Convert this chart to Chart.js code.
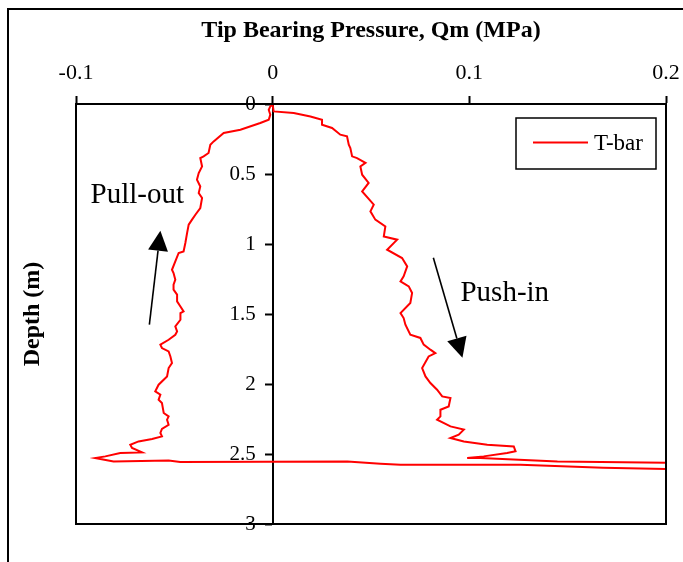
<!DOCTYPE html>
<html>
<head>
<meta charset="utf-8">
<script src="https://cdn.jsdelivr.net/npm/chart.js@4/dist/chart.umd.min.js"></script>
<style>
  html, body { margin: 0; padding: 0; background: #fff; }
</style>
</head>
<body>
<canvas id="tbarChart" width="683" height="562"></canvas>
<script>
// axis ticks
const pressureTicks = [-0.1, 0, 0.1, 0.2];
const depthTicks = [0, 0.5, 1, 1.5, 2, 2.5, 3];

// push-in: from surface down to the bottom spike (Qm in MPa, depth in m)
const pushInQm = [0, 0.0005, 0.0107, 0.0192, 0.0251, 0.0251, 0.0302, 0.0344, 0.0378, 0.0387,
  0.0395, 0.0404, 0.0429, 0.0472, 0.0446, 0.0455, 0.0488, 0.0455, 0.0514, 0.0497,
  0.0522, 0.0573, 0.0565, 0.0633, 0.0582, 0.0658, 0.0684, 0.0666, 0.065, 0.0692,
  0.0709, 0.07, 0.065, 0.0666, 0.0675, 0.07, 0.0751, 0.0768, 0.0802, 0.0827,
  0.0793, 0.076, 0.0777, 0.0802, 0.0836, 0.0862, 0.0904, 0.0895, 0.0853, 0.0853,
  0.0836, 0.0904, 0.0972, 0.0946, 0.0904, 0.0972, 0.1091, 0.1226, 0.1235, 0.1192,
  0.1073, 0.0989, 0.1056, 0.1448, 0.2007, 0.25];
const pushInDepth = [0.005, 0.053, 0.064, 0.089, 0.112, 0.148, 0.171, 0.219, 0.231, 0.291,
  0.314, 0.374, 0.386, 0.421, 0.446, 0.505, 0.564, 0.624, 0.719, 0.767,
  0.826, 0.874, 0.946, 0.969, 1.041, 1.1, 1.16, 1.231, 1.267, 1.303,
  1.35, 1.421, 1.493, 1.529, 1.576, 1.648, 1.671, 1.719, 1.755, 1.779,
  1.803, 1.886, 1.946, 1.993, 2.041, 2.089, 2.1, 2.16, 2.184, 2.231,
  2.255, 2.303, 2.326, 2.362, 2.386, 2.41, 2.434, 2.446, 2.481, 2.493,
  2.517, 2.529, 2.529, 2.553, 2.562, 2.585];

// pull-out: back across the bottom, then up to the surface
const pullOutQm = [0.2007, 0.168, 0.126, 0.065, 0.0548, 0.038, -0.047, -0.0529, -0.0809, -0.0902,
  -0.0851, -0.0775, -0.0664, -0.0715, -0.0724, -0.0682, -0.0613, -0.0563, -0.0571, -0.0563,
  -0.0529, -0.0537, -0.0529, -0.0554, -0.0563, -0.058, -0.0571, -0.0597, -0.058, -0.0537,
  -0.0529, -0.0512, -0.052, -0.0529, -0.0563, -0.0571, -0.0529, -0.0495, -0.0486, -0.0495,
  -0.0469, -0.0469, -0.0453, -0.0469, -0.0486, -0.0486, -0.0504, -0.0504, -0.0495, -0.0504,
  -0.0512, -0.0495, -0.0478, -0.0453, -0.0444, -0.0435, -0.0427, -0.041, -0.0393, -0.0368,
  -0.0359, -0.0376, -0.0368, -0.0385, -0.0376, -0.0359, -0.0368, -0.0351, -0.0326, -0.0317,
  -0.03, -0.0249, -0.0164, -0.0063, -0.002, -0.0012, -0.002, -0.0012, 0];
const pullOutDepth = [2.607, 2.598, 2.576, 2.576, 2.569, 2.553, 2.557, 2.546, 2.553, 2.529,
  2.517, 2.493, 2.489, 2.457, 2.434, 2.41, 2.393, 2.374, 2.35, 2.321,
  2.291, 2.255, 2.231, 2.207, 2.136, 2.112, 2.076, 2.053, 2.005, 1.946,
  1.886, 1.85, 1.803, 1.767, 1.743, 1.719, 1.684, 1.648, 1.624, 1.589,
  1.541, 1.493, 1.481, 1.446, 1.41, 1.362, 1.326, 1.291, 1.255, 1.207,
  1.184, 1.124, 1.064, 1.053, 0.993, 0.921, 0.862, 0.826, 0.791, 0.743,
  0.671, 0.636, 0.589, 0.541, 0.493, 0.446, 0.386, 0.374, 0.35, 0.291,
  0.267, 0.207, 0.184, 0.136, 0.112, 0.076, 0.041, 0.017, 0.005];

// text labels and arrows placed in data units
const notes = [
  { text: 'Pull-out', qm: -0.0926, depth: 0.705 },
  { text: 'Push-in', qm: 0.0955, depth: 1.41 }
];
const arrows = [
  { from: [-0.0627, 1.576], to: [-0.0571, 0.905] },
  { from: [0.0817, 1.098], to: [0.0965, 1.812] }
];

const serif = "'Liberation Serif', 'Times New Roman', serif";
const depthLabelShift = -17; // y labels sit left of the tick marks on the Qm = 0 axis

const points = pushInQm.map((q, i) => ({ x: q, y: pushInDepth[i] }))
  .concat(pullOutQm.map((q, i) => ({ x: q, y: pullOutDepth[i] })));

const decorPlugin = {
  id: 'decor',
  beforeDraw(chart) {
    const ctx = chart.ctx;
    ctx.save();
    ctx.fillStyle = '#fff';
    ctx.fillRect(0, 0, chart.width, chart.height);
    // outer figure frame
    ctx.strokeStyle = '#000';
    ctx.lineWidth = 2;
    ctx.beginPath();
    ctx.moveTo(8, chart.height);
    ctx.lineTo(8, 9);
    ctx.lineTo(chart.width, 9);
    ctx.stroke();
    ctx.restore();
  },
  afterDatasetsDraw(chart) {
    // y tick labels (z = 1) are drawn next; shift them off the tick marks
    chart.ctx.save();
    chart.ctx.translate(depthLabelShift, 0);
  },
  afterDraw(chart) {
    const ctx = chart.ctx;
    ctx.restore();
    const { left, right, top, bottom } = chart.chartArea;
    const xs = chart.scales.x, ys = chart.scales.y;
    ctx.save();
    // plot frame
    ctx.strokeStyle = '#000';
    ctx.lineWidth = 2;
    ctx.strokeRect(left, top, right - left, bottom - top);

    // notes
    ctx.fillStyle = '#000';
    ctx.font = '29px ' + serif;
    ctx.textAlign = 'left';
    ctx.textBaseline = 'alphabetic';
    notes.forEach(n => {
      ctx.fillText(n.text, xs.getPixelForValue(n.qm), ys.getPixelForValue(n.depth));
    });

    // arrows
    arrows.forEach(a => {
      const x1 = xs.getPixelForValue(a.from[0]), y1 = ys.getPixelForValue(a.from[1]);
      const x2 = xs.getPixelForValue(a.to[0]), y2 = ys.getPixelForValue(a.to[1]);
      const ang = Math.atan2(y2 - y1, x2 - x1);
      const len = 20, half = 10;
      const bx = x2 - len * Math.cos(ang), by = y2 - len * Math.sin(ang);
      ctx.lineWidth = 1.6;
      ctx.beginPath();
      ctx.moveTo(x1, y1);
      ctx.lineTo(bx, by);
      ctx.stroke();
      ctx.beginPath();
      ctx.moveTo(x2, y2);
      ctx.lineTo(bx + half * Math.sin(ang), by - half * Math.cos(ang));
      ctx.lineTo(bx - half * Math.sin(ang), by + half * Math.cos(ang));
      ctx.closePath();
      ctx.fill();
    });

    // legend box
    const ds = chart.data.datasets[0];
    const bw = 140, bh = 51;
    const bxl = right - 150, byt = top + 14;
    ctx.lineWidth = 1.5;
    ctx.strokeRect(bxl, byt, bw, bh);
    ctx.strokeStyle = ds.borderColor;
    ctx.lineWidth = 2;
    ctx.beginPath();
    ctx.moveTo(bxl + 17, byt + bh / 2 - 1);
    ctx.lineTo(bxl + 72, byt + bh / 2 - 1);
    ctx.stroke();
    ctx.font = '23px ' + serif;
    ctx.textBaseline = 'middle';
    ctx.fillText(ds.label, bxl + 78, byt + bh / 2);
    ctx.restore();
  }
};

const ctx = document.getElementById('tbarChart').getContext('2d');
new Chart(ctx, {
  type: 'scatter',
  data: {
    datasets: [{
      label: 'T-bar',
      data: points,
      showLine: true,
      borderColor: '#ff0000',
      borderWidth: 2,
      pointRadius: 0,
      fill: false,
      tension: 0
    }]
  },
  options: {
    responsive: false,
    animation: false,
    layout: { padding: { left: 14, right: 17, top: 0, bottom: 38 } },
    plugins: {
      legend: { display: false },
      tooltip: { enabled: false }
    },
    scales: {
      x: {
        type: 'linear',
        position: 'top',
        min: -0.1,
        max: 0.2,
        afterBuildTicks: s => { s.ticks = pressureTicks.map(v => ({ value: v })); },
        ticks: {
          color: '#000',
          padding: 10,
          font: { family: serif, size: 22 },
          callback: v => String(v)
        },
        grid: { drawOnChartArea: false, tickLength: 8, color: '#000', tickWidth: 2 },
        border: { color: '#000', width: 2 },
        title: {
          display: true,
          text: 'Tip Bearing Pressure, Qm (MPa)',
          color: '#000',
          font: { family: serif, size: 24, weight: 'bold' },
          padding: { top: 16, bottom: 0 }
        },
        afterFit: s => { s.height = 104; s.paddingLeft = 0; s.paddingRight = 0; }
      },
      y: {
        type: 'linear',
        position: { x: 0 },
        reverse: true,
        min: 0,
        max: 3,
        afterBuildTicks: s => { s.ticks = depthTicks.map(v => ({ value: v })); },
        ticks: {
          color: '#000',
          z: 1,
          font: { family: serif, size: 21 },
          callback: v => String(v)
        },
        grid: { drawOnChartArea: false, tickLength: 7, color: '#000', tickWidth: 2 },
        border: { color: '#000', width: 2 }
      },
      yTitle: {
        type: 'linear',
        position: 'left',
        ticks: { display: false },
        grid: { display: false },
        border: { display: false },
        title: {
          display: true,
          text: 'Depth (m)',
          color: '#000',
          font: { family: serif, size: 24, weight: 'bold' },
          padding: { top: 4, bottom: 0 }
        },
        afterFit: s => { s.width = 62; }
      }
    }
  },
  plugins: [decorPlugin]
});
</script>
</body>
</html>
